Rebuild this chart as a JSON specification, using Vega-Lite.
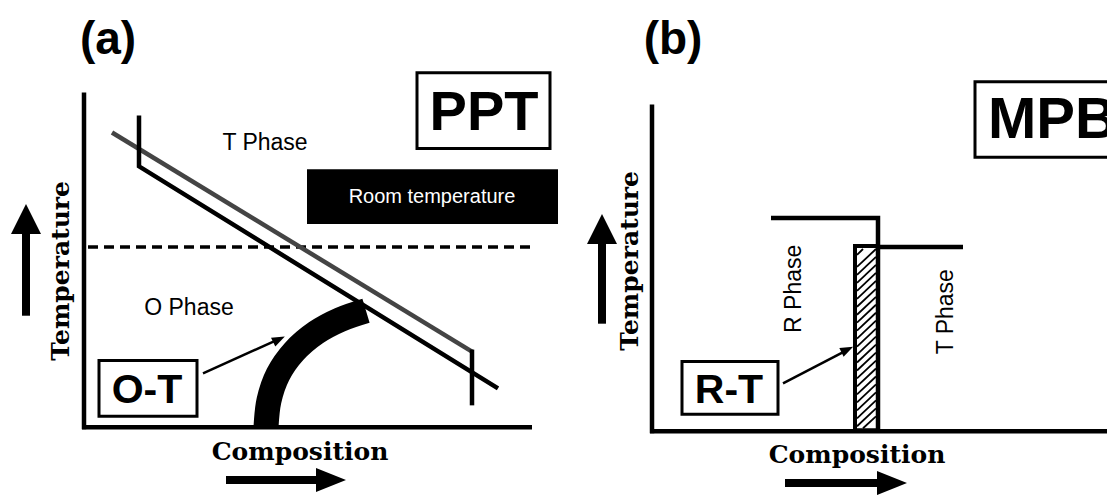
{
  "$schema": "https://vega.github.io/schema/vega-lite/v6.json",
  "width": 1107,
  "height": 495,
  "padding": 0,
  "autosize": {"type": "fit", "contains": "padding"},
  "background": "white",
  "config": {"view": {"stroke": null}},
  "datasets": {
    "boxes": [
      {"id": "PPT", "x": 417, "y": 73, "x2": 550, "y2": 149, "k": "label"},
      {"id": "MPB", "x": 975, "y": 82, "x2": 1120, "y2": 158, "k": "label"},
      {"id": "O-T", "x": 99, "y": 362, "x2": 197, "y2": 418, "k": "label"},
      {"id": "R-T", "x": 682, "y": 363, "x2": 778, "y2": 416, "k": "label"},
      {"id": "room", "x": 307, "y": 170, "x2": 558, "y2": 225, "k": "dark"},
      {"id": "hatchbox", "x": 855, "y": 247, "x2": 878, "y2": 432, "k": "hatchbox"}
    ],
    "segments": [
      {"x": 84, "y": 93, "x2": 84, "y2": 431, "k": "axis"},
      {"x": 82, "y": 429, "x2": 532, "y2": 429, "k": "axis"},
      {"x": 652, "y": 105, "x2": 652, "y2": 435, "k": "axis"},
      {"x": 650, "y": 433, "x2": 1107, "y2": 433, "k": "axis"},
      {"x": 26, "y": 317, "x2": 26, "y2": 232, "k": "shaft"},
      {"x": 226, "y": 482, "x2": 320, "y2": 482, "k": "shaft"},
      {"x": 602, "y": 325, "x2": 602, "y2": 242, "k": "shaft"},
      {"x": 785, "y": 485, "x2": 880, "y2": 485, "k": "shaft"},
      {"x": 88, "y": 248, "x2": 536, "y2": 248, "k": "dash"},
      {"x": 203, "y": 375, "x2": 280, "y2": 340, "k": "pointer"},
      {"x": 783, "y": 385, "x2": 848, "y2": 351, "k": "pointer"},
      {"x": 857, "y": 256, "x2": 863, "y2": 250, "k": "hatch"},
      {"x": 857, "y": 268, "x2": 876, "y2": 250, "k": "hatch"},
      {"x": 857, "y": 276, "x2": 876, "y2": 258, "k": "hatch"},
      {"x": 857, "y": 284, "x2": 876, "y2": 266, "k": "hatch"},
      {"x": 857, "y": 292, "x2": 876, "y2": 274, "k": "hatch"},
      {"x": 857, "y": 300, "x2": 876, "y2": 282, "k": "hatch"},
      {"x": 857, "y": 308, "x2": 876, "y2": 290, "k": "hatch"},
      {"x": 857, "y": 316, "x2": 876, "y2": 298, "k": "hatch"},
      {"x": 857, "y": 324, "x2": 876, "y2": 306, "k": "hatch"},
      {"x": 857, "y": 332, "x2": 876, "y2": 314, "k": "hatch"},
      {"x": 857, "y": 340, "x2": 876, "y2": 322, "k": "hatch"},
      {"x": 857, "y": 348, "x2": 876, "y2": 330, "k": "hatch"},
      {"x": 857, "y": 356, "x2": 876, "y2": 338, "k": "hatch"},
      {"x": 857, "y": 364, "x2": 876, "y2": 346, "k": "hatch"},
      {"x": 857, "y": 372, "x2": 876, "y2": 354, "k": "hatch"},
      {"x": 857, "y": 380, "x2": 876, "y2": 362, "k": "hatch"},
      {"x": 857, "y": 388, "x2": 876, "y2": 370, "k": "hatch"},
      {"x": 857, "y": 396, "x2": 876, "y2": 378, "k": "hatch"},
      {"x": 857, "y": 404, "x2": 876, "y2": 386, "k": "hatch"},
      {"x": 857, "y": 412, "x2": 876, "y2": 394, "k": "hatch"},
      {"x": 857, "y": 420, "x2": 876, "y2": 402, "k": "hatch"},
      {"x": 857, "y": 428, "x2": 876, "y2": 410, "k": "hatch"},
      {"x": 863, "y": 430, "x2": 876, "y2": 418, "k": "hatch"}
    ],
    "paths": [
      {"id": "gray", "o": 1, "x": 112, "y": 133, "k": "gray"},
      {"id": "gray", "o": 2, "x": 472, "y": 353, "k": "gray"},
      {"id": "arc", "o": 1, "x": 266, "y": 429, "k": "arc"},
      {"id": "arc", "o": 2, "x": 269, "y": 402, "k": "arc"},
      {"id": "arc", "o": 3, "x": 278, "y": 376, "k": "arc"},
      {"id": "arc", "o": 4, "x": 294, "y": 353, "k": "arc"},
      {"id": "arc", "o": 5, "x": 316, "y": 334, "k": "arc"},
      {"id": "arc", "o": 6, "x": 340, "y": 321, "k": "arc"},
      {"id": "arc", "o": 7, "x": 366, "y": 312, "k": "arc"},
      {"id": "b1", "o": 1, "x": 139, "y": 116, "k": "black"},
      {"id": "b1", "o": 2, "x": 139, "y": 167, "k": "black"},
      {"id": "b1", "o": 3, "x": 498, "y": 390, "k": "black"},
      {"id": "b2", "o": 1, "x": 472, "y": 351, "k": "black"},
      {"id": "b2", "o": 2, "x": 472, "y": 407, "k": "black"},
      {"id": "R", "o": 1, "x": 771, "y": 219, "k": "black"},
      {"id": "R", "o": 2, "x": 878, "y": 219, "k": "black"},
      {"id": "R", "o": 3, "x": 878, "y": 432, "k": "black"},
      {"id": "T", "o": 1, "x": 878, "y": 248, "k": "black"},
      {"id": "T", "o": 2, "x": 963, "y": 248, "k": "black"}
    ],
    "heads": [
      {"x": 26, "y": 220, "k": "up"},
      {"x": 602, "y": 230, "k": "up"},
      {"x": 331, "y": 482, "k": "right"},
      {"x": 892, "y": 485, "k": "right"},
      {"x": 279, "y": 340.7, "k": "pointer"},
      {"x": 847.3, "y": 351, "k": "pointer"}
    ],
    "texts": [
      {"t": "(a)", "x": 108, "y": 40, "k": "panel"},
      {"t": "(b)", "x": 673, "y": 40, "k": "panel"},
      {"t": "PPT", "x": 484, "y": 113, "k": "big"},
      {"t": "MPB", "x": 988, "y": 121.5, "k": "bigleft"},
      {"t": "O-T", "x": 147, "y": 393, "k": "boxlabel"},
      {"t": "R-T", "x": 729, "y": 393, "k": "boxlabel"},
      {"t": "Room temperature", "x": 432, "y": 198, "k": "room"},
      {"t": "T Phase", "x": 265, "y": 144, "k": "phase"},
      {"t": "O Phase", "x": 189, "y": 309, "k": "phase"},
      {"t": "R Phase", "x": 794, "y": 290, "k": "phasev"},
      {"t": "T Phase", "x": 946, "y": 313, "k": "phasev"},
      {"t": "Temperature", "x": 61, "y": 272, "k": "axisv"},
      {"t": "Temperature", "x": 630, "y": 262, "k": "axisv"},
      {"t": "Composition", "x": 300, "y": 454, "k": "axish"},
      {"t": "Composition", "x": 857, "y": 457, "k": "axish"}
    ]
  },
  "encoding": {
    "x": {"field": "x", "type": "quantitative", "scale": {"domain": [0, 1107], "nice": false, "zero": false}, "axis": null},
    "y": {"field": "y", "type": "quantitative", "scale": {"domain": [0, 495], "nice": false, "zero": false, "reverse": true}, "axis": null}
  },
  "layer": [
    {
      "data": {"name": "boxes"},
      "transform": [{"filter": "datum.k === 'dark'"}],
      "mark": {"type": "rect", "fill": "black", "stroke": null},
      "encoding": {"x2": {"field": "x2"}, "y2": {"field": "y2"}}
    },
    {
      "data": {"name": "boxes"},
      "transform": [{"filter": "datum.k === 'label'"}],
      "mark": {"type": "rect", "fill": "white", "stroke": "black", "strokeWidth": 3, "clip": true},
      "encoding": {"x2": {"field": "x2"}, "y2": {"field": "y2"}}
    },
    {
      "data": {"name": "segments"},
      "transform": [{"filter": "datum.k === 'dash'"}],
      "mark": {"type": "rule", "color": "black", "strokeWidth": 3.5, "strokeDash": [10, 6]},
      "encoding": {"x2": {"field": "x2"}, "y2": {"field": "y2"}}
    },
    {
      "data": {"name": "paths"},
      "transform": [{"filter": "datum.k === 'gray'"}],
      "mark": {"type": "line", "color": "#444444", "strokeWidth": 4.5},
      "encoding": {"order": {"field": "o", "type": "quantitative"}, "detail": {"field": "id"}}
    },
    {
      "data": {"name": "paths"},
      "transform": [{"filter": "datum.k === 'arc'"}],
      "mark": {"type": "line", "color": "black", "strokeWidth": 25, "strokeCap": "butt", "interpolate": "catmull-rom"},
      "encoding": {"order": {"field": "o", "type": "quantitative"}, "detail": {"field": "id"}}
    },
    {
      "data": {"name": "paths"},
      "transform": [{"filter": "datum.k === 'black'"}],
      "mark": {"type": "line", "color": "black", "strokeWidth": 4.5, "strokeJoin": "miter", "strokeCap": "butt"},
      "encoding": {"order": {"field": "o", "type": "quantitative"}, "detail": {"field": "id"}}
    },
    {
      "data": {"name": "segments"},
      "transform": [{"filter": "datum.k === 'axis'"}],
      "mark": {"type": "rule", "color": "black", "strokeWidth": 4.5, "clip": true},
      "encoding": {"x2": {"field": "x2"}, "y2": {"field": "y2"}}
    },
    {
      "data": {"name": "segments"},
      "transform": [{"filter": "datum.k === 'shaft'"}],
      "mark": {"type": "rule", "color": "black", "strokeWidth": 8},
      "encoding": {"x2": {"field": "x2"}, "y2": {"field": "y2"}}
    },
    {
      "data": {"name": "segments"},
      "transform": [{"filter": "datum.k === 'pointer'"}],
      "mark": {"type": "rule", "color": "black", "strokeWidth": 2.5},
      "encoding": {"x2": {"field": "x2"}, "y2": {"field": "y2"}}
    },
    {
      "data": {"name": "segments"},
      "transform": [{"filter": "datum.k === 'hatch'"}],
      "mark": {"type": "rule", "color": "black", "strokeWidth": 1.8},
      "encoding": {"x2": {"field": "x2"}, "y2": {"field": "y2"}}
    },
    {
      "data": {"name": "boxes"},
      "transform": [{"filter": "datum.k === 'hatchbox'"}],
      "mark": {"type": "rect", "fill": null, "fillOpacity": 0, "stroke": "black", "strokeWidth": 4},
      "encoding": {"x2": {"field": "x2"}, "y2": {"field": "y2"}}
    },
    {
      "data": {"name": "heads"},
      "transform": [{"filter": "datum.k === 'up'"}],
      "mark": {"type": "point", "shape": "M0,-1L1,1L-1,1Z", "size": 900, "filled": true, "color": "black", "opacity": 1}
    },
    {
      "data": {"name": "heads"},
      "transform": [{"filter": "datum.k === 'right'"}],
      "mark": {"type": "point", "shape": "M-1,-0.8L1,0L-1,0.8Z", "size": 900, "filled": true, "color": "black", "opacity": 1}
    },
    {
      "data": {"name": "heads"},
      "transform": [{"filter": "datum.k === 'pointer'"}],
      "mark": {"type": "point", "shape": "M-1,-0.75L1,0L-1,0.75Z", "size": 169, "angle": 334, "filled": true, "color": "black", "opacity": 1}
    },
    {
      "data": {"name": "texts"},
      "transform": [{"filter": "datum.k === 'panel'"}],
      "mark": {"type": "text", "font": "Liberation Sans", "fontWeight": "bold", "fontSize": 46, "align": "center", "baseline": "middle", "color": "black"},
      "encoding": {"text": {"field": "t"}}
    },
    {
      "data": {"name": "texts"},
      "transform": [{"filter": "datum.k === 'big'"}],
      "mark": {"type": "text", "font": "Liberation Sans", "fontWeight": "bold", "fontSize": 56, "align": "center", "baseline": "middle", "color": "black"},
      "encoding": {"text": {"field": "t"}}
    },
    {
      "data": {"name": "texts"},
      "transform": [{"filter": "datum.k === 'bigleft'"}],
      "mark": {"type": "text", "font": "Liberation Sans", "fontWeight": "bold", "fontSize": 58, "align": "left", "baseline": "middle", "color": "black", "clip": true},
      "encoding": {"text": {"field": "t"}}
    },
    {
      "data": {"name": "texts"},
      "transform": [{"filter": "datum.k === 'boxlabel'"}],
      "mark": {"type": "text", "font": "Liberation Sans", "fontWeight": "bold", "fontSize": 41, "align": "center", "baseline": "middle", "color": "black"},
      "encoding": {"text": {"field": "t"}}
    },
    {
      "data": {"name": "texts"},
      "transform": [{"filter": "datum.k === 'room'"}],
      "mark": {"type": "text", "font": "Liberation Sans", "fontSize": 20, "align": "center", "baseline": "middle", "color": "white"},
      "encoding": {"text": {"field": "t"}}
    },
    {
      "data": {"name": "texts"},
      "transform": [{"filter": "datum.k === 'phase'"}],
      "mark": {"type": "text", "font": "Liberation Sans", "fontSize": 23, "align": "center", "baseline": "middle", "color": "black"},
      "encoding": {"text": {"field": "t"}}
    },
    {
      "data": {"name": "texts"},
      "transform": [{"filter": "datum.k === 'phasev'"}],
      "mark": {"type": "text", "font": "Liberation Sans", "fontSize": 23, "angle": 270, "align": "center", "baseline": "middle", "color": "black"},
      "encoding": {"text": {"field": "t"}}
    },
    {
      "data": {"name": "texts"},
      "transform": [{"filter": "datum.k === 'axisv'"}],
      "mark": {"type": "text", "font": "DejaVu Serif", "fontWeight": "bold", "fontSize": 25, "angle": 270, "align": "center", "baseline": "middle", "color": "black"},
      "encoding": {"text": {"field": "t"}}
    },
    {
      "data": {"name": "texts"},
      "transform": [{"filter": "datum.k === 'axish'"}],
      "mark": {"type": "text", "font": "DejaVu Serif", "fontWeight": "bold", "fontSize": 25, "align": "center", "baseline": "middle", "color": "black"},
      "encoding": {"text": {"field": "t"}}
    }
  ]
}
